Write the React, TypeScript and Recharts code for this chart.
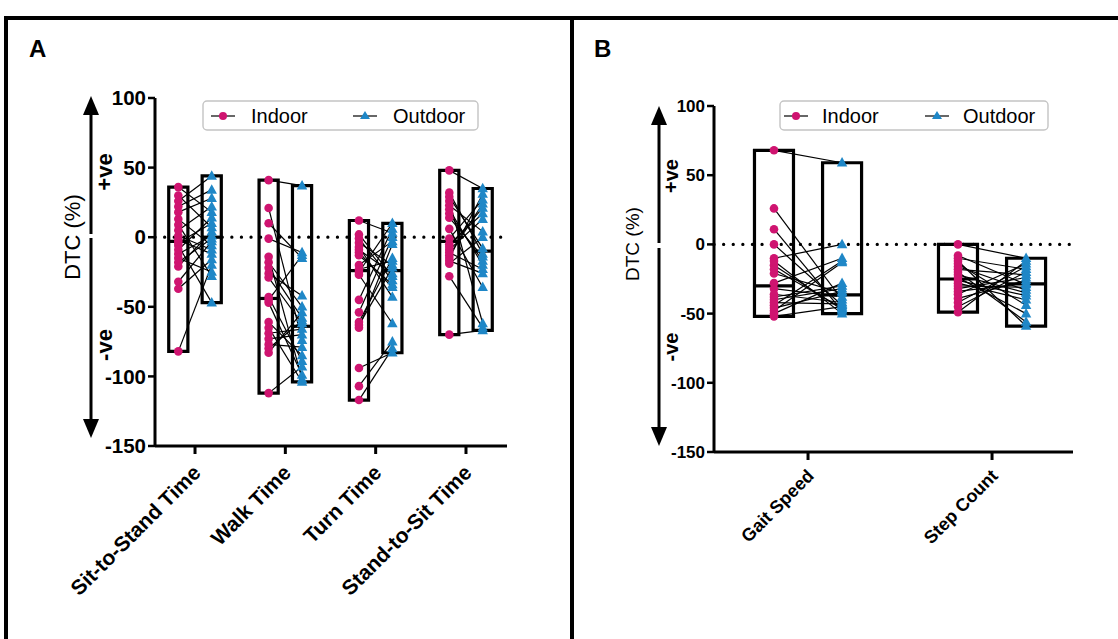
import React from 'react'
import { ComposedChart, Scatter, XAxis, YAxis, ReferenceArea, ReferenceLine } from 'recharts'

// ── data ──

const tugCategories = ['Sit-to-Stand Time', 'Walk Time', 'Turn Time', 'Stand-to-Sit Time']
const gaitCategories = ['Gait Speed', 'Step Count']
const yTicks = [-150, -100, -50, 0, 50, 100]

// one value per subject, same subject order in indoor and outdoor arrays
const sitToStandIndoor = [13, -82, 26, -4, 9, -21, 36, -2, -32, 18, 1, -12, 30, -6, -37, 5, -15, 22, -9, -18]
const sitToStandOutdoor = [-6, -20, 44, 10, -28, 4, 18, -12, -3, 28, -9, 1, 7, -47, -16, 22, -25, 34, 14, -1]
const walkIndoor = [41, -1, -112, 21, -45, -61, 10, -80, -14, -26, -69, -43, -83, -18, -47, -73, -22, -65, -29, -77]
const walkOutdoor = [37, -11, -93, -74, -13, -85, -15, -60, -102, -42, -66, -89, -54, -50, -99, -70, -58, -104, -62, -79]
const turnIndoor = [12, -117, -4, -45, 2, -94, -11, -25, -61, -7, -107, -20, -63, -1, -27, -54, -9, -65, -13, -23]
const turnOutdoor = [3, -80, -20, 6, -28, -83, -36, 10, -15, -43, -75, -3, -22, -31, -62, 0, -26, -5, -34, -17]
const standToSitIndoor = [48, -9, 20, -70, 32, -13, 6, -19, 26, -5, -28, 14, -15, 29, -1, -11, 23, -17, -7, 17]
const standToSitOutdoor = [35, 13, -20, -67, -12, 24, -36, 0, -62, 17, -65, -14, 31, -8, 27, -23, 4, -26, 21, -17]

const gaitSpeedIndoor = [68, 26, -52, 11, -10, 0, -28, -15, -44, -38, -12, -48, -32, -21, -50, -18, -40, -36, -46, -42]
const gaitSpeedOutdoor = [59, -40, -45, -48, 0, -44, -10, -47, -12, -30, -50, -13, -38, -35, -28, -46, -32, -42, -34, -43]
const stepCountIndoor = [0, -20, -36, -8, -28, -45, -12, -32, -16, -49, -24, -10, -39, -26, -14, -42, -30, -18, -34, -22]
const stepCountOutdoor = [-10, -56, -14, -29, -40, -20, -59, -24, -33, -12, -50, -18, -26, -37, -44, -16, -31, -22, -28, -35]

const PINK = '#cf1470'
const BLUE = '#1f87c7'
const FONT = 'Arial, "Liberation Sans", Helvetica, sans-serif'
const OFFSET = 0.185
const HALF = 0.106

type Group = { indoor: number[]; outdoor: number[] }

const tugGroups: Group[] = [
  { indoor: sitToStandIndoor, outdoor: sitToStandOutdoor },
  { indoor: walkIndoor, outdoor: walkOutdoor },
  { indoor: turnIndoor, outdoor: turnOutdoor },
  { indoor: standToSitIndoor, outdoor: standToSitOutdoor },
]
const gaitGroups: Group[] = [
  { indoor: gaitSpeedIndoor, outdoor: gaitSpeedOutdoor },
  { indoor: stepCountIndoor, outdoor: stepCountOutdoor },
]

function median(values: number[]) {
  const s = [...values].sort((a, b) => a - b)
  const m = Math.floor(s.length / 2)
  return s.length % 2 ? s[m] : (s[m - 1] + s[m]) / 2
}

const Dot = (r: number) => (p: any) => <circle cx={p.cx} cy={p.cy} r={r} fill={PINK} />
const Tri = (s: number) => (p: any) => (
  <path
    d={`M${p.cx},${p.cy - s * 0.6} L${p.cx + s * 0.55},${p.cy + s * 0.4} L${p.cx - s * 0.55},${p.cy + s * 0.4} Z`}
    fill={BLUE}
  />
)

function CatTick(props: any) {
  const { x, y, payload, labels, fontSize } = props
  const ax = x + 7
  const ay = y + fontSize - 3
  return (
    <text
      x={ax}
      y={ay}
      transform={`rotate(-45 ${ax} ${ay})`}
      textAnchor="end"
      fontFamily={FONT}
      fontWeight={700}
      fontSize={fontSize}
      fill="#000"
    >
      {labels[payload.value]}
    </text>
  )
}

type PanelProps = {
  groups: Group[]
  labels: string[]
  width: number
  height: number
  margin: { top: number; left: number; right: number; bottom: number }
  yAxisWidth: number
  domain: [number, number]
  tickFont: number
  catFont: number
  dotR: number
  triS: number
}

function Panel({ groups, labels, width, height, margin, yAxisWidth, domain, tickFont, catFont, dotR, triS }: PanelProps) {
  const indoorPts = groups.flatMap((g, i) => g.indoor.map((v) => ({ x: i - OFFSET, y: v })))
  const outdoorPts = groups.flatMap((g, i) => g.outdoor.map((v) => ({ x: i + OFFSET, y: v })))
  const ticks = labels.map((_, i) => i)

  return (
    <ComposedChart width={width} height={height} margin={margin}>
      <XAxis
        type="number"
        dataKey="x"
        domain={domain}
        ticks={ticks}
        interval={0}
        allowDataOverflow
        height={150}
        tickSize={8}
        tickMargin={2}
        axisLine={{ stroke: '#000', strokeWidth: 3 }}
        tickLine={{ stroke: '#000', strokeWidth: 3 }}
        tick={(p: any) => <CatTick {...p} labels={labels} fontSize={catFont} />}
      />
      <YAxis
        type="number"
        dataKey="y"
        domain={[-150, 100]}
        ticks={yTicks}
        interval={0}
        allowDataOverflow
        width={yAxisWidth}
        tickSize={7}
        tickMargin={2}
        axisLine={{ stroke: '#000', strokeWidth: 3 }}
        tickLine={{ stroke: '#000', strokeWidth: 2.5 }}
        tick={{ fill: '#000', fontSize: tickFont, fontWeight: 700, fontFamily: FONT }}
      />
      <ReferenceLine y={0} stroke="#000" strokeWidth={3.2} strokeDasharray="0.1 9.5" strokeLinecap="round" />
      {groups.flatMap((g, i) =>
        g.indoor.map((v, k) => (
          <ReferenceLine
            key={`pair-${i}-${k}`}
            segment={[{ x: i - OFFSET, y: v }, { x: i + OFFSET, y: g.outdoor[k] }]}
            stroke="#000"
            strokeWidth={1.2}
          />
        ))
      )}
      {groups.flatMap((g, i) =>
        [
          { vals: g.indoor, c: i - OFFSET },
          { vals: g.outdoor, c: i + OFFSET },
        ].map((b, j) => (
          <ReferenceArea
            key={`box-${i}-${j}`}
            x1={b.c - HALF}
            x2={b.c + HALF}
            y1={Math.min(...b.vals)}
            y2={Math.max(...b.vals)}
            fill="none"
            fillOpacity={0}
            stroke="#000"
            strokeWidth={3.2}
          />
        ))
      )}
      {groups.flatMap((g, i) =>
        [
          { vals: g.indoor, c: i - OFFSET },
          { vals: g.outdoor, c: i + OFFSET },
        ].map((b, j) => (
          <ReferenceLine
            key={`med-${i}-${j}`}
            segment={[{ x: b.c - HALF, y: median(b.vals) }, { x: b.c + HALF, y: median(b.vals) }]}
            stroke="#000"
            strokeWidth={3.2}
          />
        ))
      )}
      <Scatter data={indoorPts} shape={Dot(dotR)} isAnimationActive={false} />
      <Scatter data={outdoorPts} shape={Tri(triS)} isAnimationActive={false} />
    </ComposedChart>
  )
}

function Arrow({ x, top, bottom, gapTop, gapBottom }: { x: number; top: number; bottom: number; gapTop: number; gapBottom: number }) {
  return (
    <g fill="#000" stroke="#000">
      <line x1={x} y1={top + 16} x2={x} y2={gapTop} strokeWidth={3} />
      <line x1={x} y1={gapBottom} x2={x} y2={bottom - 16} strokeWidth={3} />
      <path d={`M${x},${top} L${x + 8},${top + 19} L${x - 8},${top + 19} Z`} stroke="none" />
      <path d={`M${x},${bottom} L${x + 8},${bottom - 19} L${x - 8},${bottom - 19} Z`} stroke="none" />
    </g>
  )
}

function VText({ x, y, children, size, bold }: { x: number; y: number; children: string; size: number; bold?: boolean }) {
  return (
    <text
      x={x}
      y={y}
      transform={`rotate(-90 ${x} ${y})`}
      textAnchor="middle"
      dominantBaseline="central"
      fontFamily={FONT}
      fontSize={size}
      fontWeight={bold ? 700 : 400}
      fill="#000"
    >
      {children}
    </text>
  )
}

function LegendBox({ x, y, w, dotX, textX, triX, text2X }: { x: number; y: number; w: number; dotX: number; textX: number; triX: number; text2X: number }) {
  const cy = y + 15
  return (
    <g fontFamily={FONT} fontSize={20} fill="#000">
      <rect x={x} y={y} width={w} height={29} rx={4} fill="#fff" stroke="#c4c4c4" strokeWidth={1.4} />
      <line x1={dotX - 12} x2={dotX + 12} y1={cy} y2={cy} stroke="#000" strokeWidth={1.2} />
      <circle cx={dotX} cy={cy} r={4} fill={PINK} />
      <text x={textX} y={cy + 7}>Indoor</text>
      <line x1={triX - 12} x2={triX + 12} y1={cy} y2={cy} stroke="#000" strokeWidth={1.2} />
      <path d={`M${triX},${cy - 5} L${triX + 5},${cy + 3} L${triX - 5},${cy + 3} Z`} fill={BLUE} />
      <text x={text2X} y={cy + 7}>Outdoor</text>
    </g>
  )
}

export default function App() {
  return (
    <div style={{ position: 'absolute', left: 0, top: 0, width: 1118, height: 639, background: '#fff', overflow: 'hidden' }}>
      <div style={{ position: 'absolute', left: 0, top: 0 }}>
        <Panel
          groups={tugGroups}
          labels={tugCategories}
          width={560}
          height={639}
          margin={{ top: 98, left: 95, right: 53, bottom: 43 }}
          yAxisWidth={60}
          domain={[-0.443, 3.454]}
          tickFont={20.5}
          catFont={21}
          dotR={4.3}
          triS={9.5}
        />
      </div>
      <div style={{ position: 'absolute', left: 580, top: 0 }}>
        <Panel
          groups={gaitGroups}
          labels={gaitCategories}
          width={520}
          height={639}
          margin={{ top: 106, left: 84, right: 27, bottom: 37 }}
          yAxisWidth={50}
          domain={[-0.511, 1.44]}
          tickFont={17}
          catFont={18}
          dotR={4.3}
          triS={9.5}
        />
      </div>
      <svg width={1118} height={639} style={{ position: 'absolute', left: 0, top: 0, pointerEvents: 'none' }}>
        <rect x={4} y={16} width={1114} height={4} fill="#000" />
        <rect x={4} y={16} width={4} height={623} fill="#000" />
        <rect x={570} y={16} width={4} height={623} fill="#000" />
        <text x={29} y={57} fontFamily={FONT} fontWeight={700} fontSize={24}>A</text>
        <text x={594} y={57} fontFamily={FONT} fontWeight={700} fontSize={24}>B</text>

        <Arrow x={91} top={96} bottom={438} gapTop={234} gapBottom={238} />
        <VText x={72} y={237} size={22}>DTC (%)</VText>
        <VText x={104} y={172} size={22} bold>+ve</VText>
        <VText x={104} y={345} size={22} bold>-ve</VText>

        <Arrow x={659} top={106} bottom={446} gapTop={243} gapBottom={248} />
        <VText x={632} y={244} size={19}>DTC (%)</VText>
        <VText x={671} y={176} size={20} bold>+ve</VText>
        <VText x={671} y={347} size={20} bold>-ve</VText>

        <LegendBox x={203} y={101} w={275} dotX={223} textX={251} triX={365} text2X={393} />
        <LegendBox x={780} y={101} w={268} dotX={796} textX={822} triX={937} text2X={963} />
      </svg>
    </div>
  )
}
